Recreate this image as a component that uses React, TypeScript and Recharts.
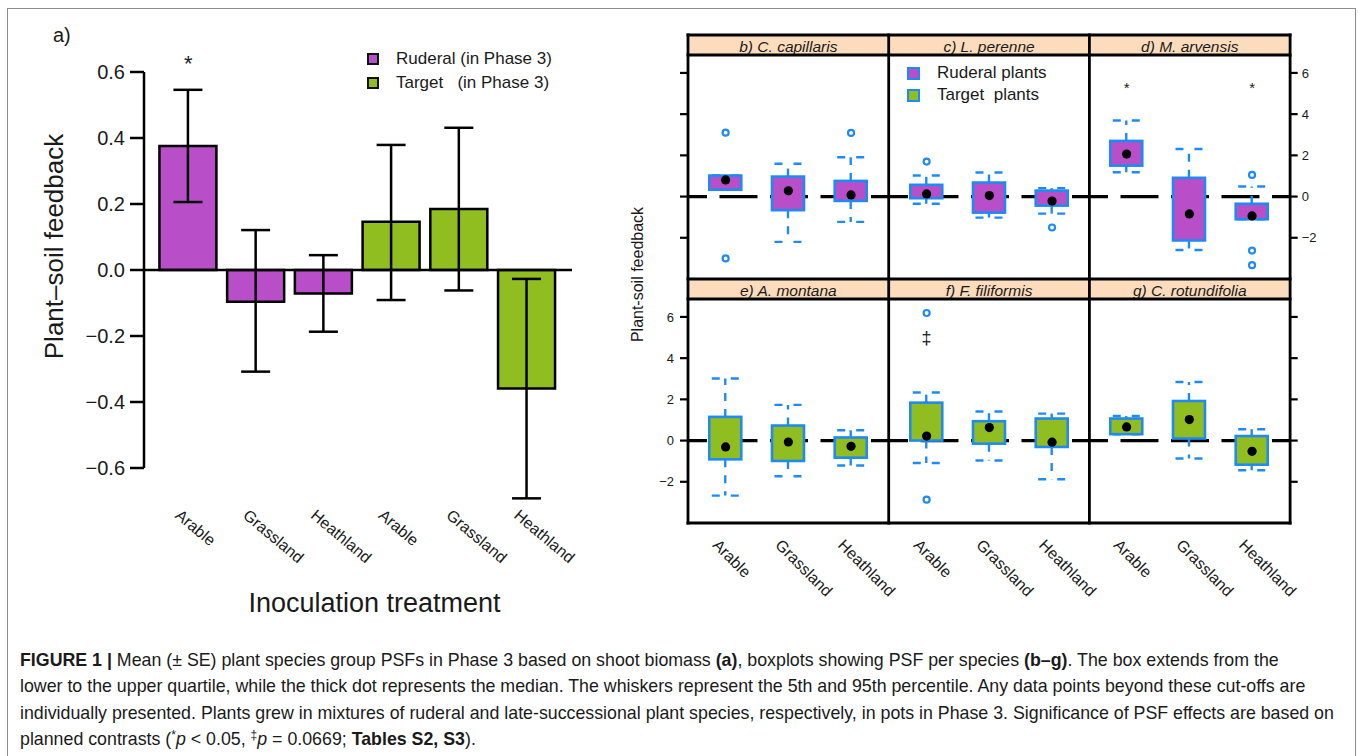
import React from "react";
import {
  ComposedChart,
  Bar,
  Cell,
  ErrorBar,
  Scatter,
  XAxis,
  YAxis,
  ReferenceLine,
  ReferenceDot,
  Legend,
} from "recharts";

const SANS = "'Liberation Sans', Arial, Helvetica, sans-serif";
const INK = "#1a1a1a";
const RUDERAL = "#b94ec9";
const TARGET = "#90bd1f";
const BLUE = "#1f8bf2";
const STRIP = "#fcdcbc";

// ---------- a) group means (± SE) ----------
const groupTreatments = ["Arable", "Grassland", "Heathland", "Arable", "Grassland", "Heathland"];
const groupKinds = ["Ruderal", "Ruderal", "Ruderal", "Target", "Target", "Target"];
const groupMeans = [0.376, -0.096, -0.071, 0.146, 0.185, -0.359];
const groupSeHigh = [0.546, 0.121, 0.045, 0.379, 0.431, -0.027];
const groupSeLow = [0.206, -0.308, -0.187, -0.091, -0.062, -0.692];
const groupSignif = ["*", "", "", "", "", ""];
const groupTicks = [-0.6, -0.4, -0.2, 0, 0.2, 0.4, 0.6];
const groupLegend = [
  { kind: "Ruderal", text: "Ruderal (in Phase 3)" },
  { kind: "Target", text: "Target   (in Phase 3)" },
];

// ---------- b-g) boxplots per species ----------
const treatments = ["Arable", "Grassland", "Heathland"];
const psfTicks = [-2, 0, 2, 4, 6];
// each row: [lower whisker, lower quartile, median, upper quartile, upper whisker]
const capillarisStats = [
  [0.33, 0.33, 0.81, 1.02, 1.02],
  [-2.2, -0.66, 0.28, 0.97, 1.59],
  [-1.23, -0.21, 0.08, 0.76, 1.91],
];
const capillarisOutliers: [string, number][] = [["Arable", 3.1], ["Arable", -3.0], ["Heathland", 3.09]];

const perenneStats = [
  [-0.35, -0.08, 0.13, 0.57, 1.02],
  [-1.02, -0.78, 0.05, 0.68, 1.17],
  [-0.83, -0.44, -0.22, 0.29, 0.41],
];
const perenneOutliers: [string, number][] = [["Arable", 1.7], ["Heathland", -1.5]];

const arvensisStats = [
  [1.18, 1.5, 2.06, 2.7, 3.69],
  [-2.59, -2.13, -0.84, 0.91, 2.31],
  [-1.1, -1.1, -0.94, -0.35, 0.49],
];
const arvensisOutliers: [string, number][] = [["Heathland", 1.05], ["Heathland", -2.62], ["Heathland", -3.33]];
const arvensisMarks: [string, number, string][] = [["Arable", 5.34, "*"], ["Heathland", 5.34, "*"]];

const montanaStats = [
  [-2.67, -0.91, -0.31, 1.15, 3.01],
  [-1.73, -0.99, -0.07, 0.73, 1.73],
  [-1.21, -0.83, -0.28, 0.15, 0.5],
];

const filiformisStats = [
  [-1.09, 0.0, 0.22, 1.84, 2.33],
  [-0.97, -0.15, 0.63, 0.94, 1.41],
  [-1.88, -0.31, -0.08, 1.07, 1.31],
];
const filiformisOutliers: [string, number][] = [["Arable", 6.19], ["Arable", -2.87]];
const filiformisMarks: [string, number, string][] = [["Arable", 5.0, "\u2021"]];

const rotundifoliaStats = [
  [0.31, 0.31, 0.66, 1.07, 1.19],
  [-0.87, 0.1, 1.02, 1.92, 2.84],
  [-1.44, -1.17, -0.52, 0.22, 0.55],
];

const speciesLegend = [
  { kind: "Ruderal", text: "Ruderal plants" },
  { kind: "Target", text: "Target  plants" },
];

const noMarks: [string, number, string][] = [];
const noOutliers: [string, number][] = [];

const panels = [
  { title: "b) C. capillaris", kind: "Ruderal", stats: capillarisStats, outliers: capillarisOutliers, marks: noMarks },
  { title: "c) L. perenne", kind: "Ruderal", stats: perenneStats, outliers: perenneOutliers, marks: noMarks },
  { title: "d) M. arvensis", kind: "Ruderal", stats: arvensisStats, outliers: arvensisOutliers, marks: arvensisMarks },
  { title: "e) A. montana", kind: "Target", stats: montanaStats, outliers: noOutliers, marks: noMarks },
  { title: "f) F. filiformis", kind: "Target", stats: filiformisStats, outliers: filiformisOutliers, marks: filiformisMarks },
  { title: "g) C. rotundifolia", kind: "Target", stats: rotundifoliaStats, outliers: noOutliers, marks: noMarks },
];

const kindColour = (k: string) => (k === "Ruderal" ? RUDERAL : TARGET);

// ---------- layout ----------
const A_W = 660;
const A_H = 630;
const A_TOP = 72;
const A_AXIS_X = 144;
const A_RIGHT = 572;
const A_YDOM: [number, number] = [-0.75, 0.6];
const A_PLOT_H = (A_YDOM[1] - A_YDOM[0]) * 330;
const A_XDOM: [number, number] = [0.346, 6.666];
const A_TICK_Y = 517;

const GRID_X = 688;
const COL_W = 200.7;
const ROW_Y = [55, 299];
const PLOT_H = 224;
const STRIP_H = 20;
const AXIS_W = 40;
const PAD = 10;
const X_AXIS_H = 110;
const PSF_DOMAIN: [number, number] = [-4, 6.87];

const fmtGroup = (v: number) => (Math.abs(v) < 1e-9 ? "0.0" : (v < 0 ? "\u2212" : "") + Math.abs(v).toFixed(1));
const fmtPsf = (v: number) => (v < 0 ? "\u2212" + Math.abs(v) : String(v));

const groupData = groupMeans.map((m, i) => ({
  x: i + 1,
  mean: m,
  err: [m - groupSeLow[i], groupSeHigh[i] - m],
  kind: groupKinds[i],
}));

function GroupTick(props: any) {
  const { x, payload } = props;
  const tx = x - 14;
  return (
    <text x={tx} y={A_TICK_Y} transform={`rotate(40, ${tx}, ${A_TICK_Y})`} fontSize={16} fontFamily={SANS} fill={INK}>
      {groupTreatments[payload.value - 1]}
    </text>
  );
}

function GroupLegend() {
  return (
    <div style={{ position: "relative", width: 220, height: 48, fontFamily: SANS, fontSize: 17, color: INK }}>
      {groupLegend.map((l, i) => (
        <React.Fragment key={l.kind}>
          <div
            style={{
              position: "absolute",
              left: 0,
              top: 3 + i * 23.5,
              width: 12,
              height: 12,
              boxSizing: "border-box",
              border: "2px solid #111",
              background: kindColour(l.kind),
            }}
          />
          <div style={{ position: "absolute", left: 29, top: i * 23.5, lineHeight: "17px", whiteSpace: "pre" }}>{l.text}</div>
        </React.Fragment>
      ))}
    </div>
  );
}

function GroupChart() {
  return (
    <ComposedChart
      width={A_W}
      height={A_H}
      data={groupData}
      margin={{ top: A_TOP, right: A_W - A_RIGHT, bottom: 0, left: 0 }}
    >
      <XAxis
        dataKey="x"
        type="number"
        domain={A_XDOM}
        ticks={[1, 2, 3, 4, 5, 6]}
        interval={0}
        height={A_H - A_TOP - A_PLOT_H}
        axisLine={false}
        tickLine={false}
        tick={(p: any) => <GroupTick {...p} />}
        label={{
          content: () => (
            <text x={374.5} y={612} textAnchor="middle" fontSize={27} fontFamily={SANS} fill={INK}>
              Inoculation treatment
            </text>
          ),
        }}
      />
      <YAxis
        domain={A_YDOM}
        ticks={groupTicks}
        width={A_AXIS_X}
        axisLine={false}
        tickLine={{ stroke: "#000", strokeWidth: 2.5 }}
        tickSize={14}
        tickMargin={5}
        tickFormatter={fmtGroup}
        tick={{ fontSize: 20, fill: INK, fontFamily: SANS }}
        label={{
          content: () => (
            <text x={63} y={246.5} transform="rotate(-90, 63, 246.5)" textAnchor="middle" fontSize={26} fontFamily={SANS} fill={INK}>
              Plant–soil feedback
            </text>
          ),
        }}
      />
      <ReferenceLine
        segment={[{ x: A_XDOM[0], y: groupTicks[0] }, { x: A_XDOM[0], y: groupTicks[groupTicks.length - 1] }]}
        stroke="#000"
        strokeWidth={2.5}
        ifOverflow="visible"
      />
      <Bar dataKey="mean" barSize={57} stroke="#000" strokeWidth={2.5} isAnimationActive={false}>
        {groupData.map((d) => (
          <Cell key={d.x} fill={kindColour(d.kind)} />
        ))}
        <ErrorBar dataKey="err" width={14.5} stroke="#000" strokeWidth={2.5} isAnimationActive={false} />
      </Bar>
      <ReferenceLine y={0} stroke="#000" strokeWidth={2.5} />
      {groupSignif.map((s, i) =>
        s ? (
          <ReferenceDot
            key={i}
            x={i + 1}
            y={groupSeHigh[i] + 0.08}
            r={0}
            fill="none"
            stroke="none"
            ifOverflow="visible"
            label={{ value: s, position: "center", fontSize: 22, fill: INK, fontFamily: SANS }}
          />
        ) : null
      )}
      <Legend
        layout="vertical"
        align="center"
        verticalAlign="middle"
        wrapperStyle={{ left: 367, top: 50, width: 220 }}
        content={() => <GroupLegend />}
      />
    </ComposedChart>
  );
}

function BoxShape(props: any) {
  const { x, y, width, height, payload, boxFill } = props;
  if (x == null || y == null || !payload) return null;
  const top = Math.min(y, y + height);
  const bottom = Math.max(y, y + height);
  const span = payload.hi - payload.lo;
  const py = (v: number) => (span === 0 ? top : top + ((payload.hi - v) / span) * (bottom - top));
  const cx = x + width / 2;
  const yq3 = py(payload.q3);
  const yq1 = py(payload.q1);
  return (
    <g>
      <line x1={cx} x2={cx} y1={yq3} y2={top} stroke={BLUE} strokeWidth={2.4} strokeDasharray="8 8" />
      <line x1={cx} x2={cx} y1={yq1} y2={bottom} stroke={BLUE} strokeWidth={2.4} strokeDasharray="8 8" />
      <line x1={cx - 13.5} x2={cx + 13.5} y1={top} y2={top} stroke={BLUE} strokeWidth={2.4} strokeDasharray="8 11" />
      <line x1={cx - 13.5} x2={cx + 13.5} y1={bottom} y2={bottom} stroke={BLUE} strokeWidth={2.4} strokeDasharray="8 11" />
      <rect x={x} y={yq3} width={width} height={Math.max(yq1 - yq3, 0)} fill={boxFill} stroke={BLUE} strokeWidth={2.6} />
    </g>
  );
}

function SpeciesLegend() {
  return (
    <div style={{ position: "relative", width: 160, height: 44, fontFamily: SANS, fontSize: 17, color: INK }}>
      {speciesLegend.map((l, i) => (
        <React.Fragment key={l.kind}>
          <div
            style={{
              position: "absolute",
              left: 0,
              top: 2.5 + i * 22,
              width: 13,
              height: 13,
              boxSizing: "border-box",
              border: `2.5px solid ${BLUE}`,
              background: kindColour(l.kind),
            }}
          />
          <div style={{ position: "absolute", left: 30, top: i * 22, lineHeight: "17px", whiteSpace: "pre" }}>{l.text}</div>
        </React.Fragment>
      ))}
    </div>
  );
}

const blankTick = () => <g />;

function SpeciesPanel({ panel, col, row }: { panel: (typeof panels)[number]; col: number; row: number }) {
  const bottomRow = row === 1;
  const rows = treatments.map((t, i) => {
    const [lo, q1, med, q3, hi] = panel.stats[i];
    return { x: i + 1, lo, q1, med, q3, hi };
  });
  const outl = panel.outliers.map(([t, v]) => ({ x: treatments.indexOf(t) + 1, v }));
  const marks = panel.marks.map(([t, v, s]) => ({ x: treatments.indexOf(t) + 1, v, s }));
  const fill = kindColour(panel.kind);
  const plotBottom = PAD + PLOT_H;
  const axisTick = { fontSize: 13, fill: INK, fontFamily: SANS };

  return (
    <div style={{ position: "absolute", left: GRID_X + col * COL_W - AXIS_W, top: ROW_Y[row] - PAD }}>
      <ComposedChart
        width={COL_W + 2 * AXIS_W}
        height={PAD + PLOT_H + (bottomRow ? X_AXIS_H : PAD)}
        data={rows}
        margin={{ top: PAD, right: 0, bottom: bottomRow ? 0 : PAD, left: 0 }}
      >
        <XAxis
          xAxisId="x"
          dataKey="x"
          type="number"
          domain={[0.4, 3.6]}
          ticks={[1, 2, 3]}
          interval={0}
          hide={!bottomRow}
          height={X_AXIS_H}
          axisLine={false}
          tickLine={false}
          tick={(p: any) => {
            const tx = p.x - 14;
            const ty = plotBottom + 23;
            return (
              <text x={tx} y={ty} transform={`rotate(45, ${tx}, ${ty})`} fontSize={16} fontFamily={SANS} fill={INK}>
                {treatments[p.payload.value - 1]}
              </text>
            );
          }}
        />
        <YAxis
          yAxisId="l"
          orientation="left"
          width={AXIS_W}
          domain={PSF_DOMAIN}
          ticks={psfTicks}
          interval={0}
          axisLine={false}
          tickLine={col === 0 ? { stroke: "#000", strokeWidth: 2.2 } : false}
          tickSize={8}
          tickMargin={6}
          tickFormatter={fmtPsf}
          tick={col === 0 && bottomRow ? axisTick : blankTick}
        />
        <YAxis
          yAxisId="r"
          orientation="right"
          width={AXIS_W}
          domain={PSF_DOMAIN}
          ticks={psfTicks}
          interval={0}
          axisLine={false}
          tickLine={col === 2 ? { stroke: "#000", strokeWidth: 2.2 } : false}
          tickSize={8}
          tickMargin={4}
          tickFormatter={fmtPsf}
          tick={col === 2 && !bottomRow ? axisTick : blankTick}
        />
        <ReferenceLine
          xAxisId="x"
          yAxisId="l"
          y={0}
          stroke="#000"
          strokeWidth={3.3}
          strokeDasharray="38 12.5"
          strokeDashoffset={19}
          zIndex={250}
        />
        <Bar
          xAxisId="x"
          yAxisId="l"
          dataKey={(d: any) => [d.lo, d.hi]}
          barSize={32}
          isAnimationActive={false}
          shape={(p: any) => <BoxShape {...p} boxFill={fill} />}
        />
        <Scatter
          xAxisId="x"
          yAxisId="l"
          dataKey="med"
          isAnimationActive={false}
          shape={(p: any) => <circle cx={p.cx} cy={p.cy} r={4.6} fill="#000" />}
        />
        {/* keeps the right-hand axis bound to the same values */}
        <Scatter xAxisId="x" yAxisId="r" dataKey="med" isAnimationActive={false} legendType="none" shape={blankTick} />
        {outl.length > 0 && (
          <Scatter
            xAxisId="x"
            yAxisId="l"
            data={outl}
            dataKey="v"
            isAnimationActive={false}
            shape={(p: any) => <circle cx={p.cx} cy={p.cy} r={3} fill="#fff" stroke={BLUE} strokeWidth={2.2} />}
          />
        )}
        {marks.length > 0 && (
          <Scatter
            xAxisId="x"
            yAxisId="l"
            data={marks}
            dataKey="v"
            isAnimationActive={false}
            shape={(p: any) => (
              <text x={p.cx} y={p.cy + 6} textAnchor="middle" fontSize={p.payload.s === "*" ? 15 : 18} fontFamily={SANS} fill={INK}>
                {p.payload.s}
              </text>
            )}
          />
        )}
        {col === 1 && row === 0 && (
          <Legend
            layout="vertical"
            align="center"
            verticalAlign="middle"
            wrapperStyle={{ left: 58.3, top: 19, width: 160 }}
            content={() => <SpeciesLegend />}
          />
        )}
      </ComposedChart>
    </div>
  );
}

function Frame() {
  const right = GRID_X + 3 * COL_W;
  const top = ROW_Y[0] - STRIP_H;
  const bottom = ROW_Y[1] + PLOT_H;
  const vx = [GRID_X, GRID_X + COL_W, GRID_X + 2 * COL_W, right];
  const hy = [top, ROW_Y[0], ROW_Y[0] + PLOT_H, ROW_Y[1], bottom];
  return (
    <svg width={1358} height={640} style={{ position: "absolute", left: 0, top: 0, pointerEvents: "none" }}>
      {panels.map((p, i) => {
        const col = i % 3;
        const row = Math.floor(i / 3);
        const x = GRID_X + col * COL_W;
        const y = ROW_Y[row] - STRIP_H;
        return (
          <g key={p.title}>
            <rect x={x} y={y} width={COL_W} height={STRIP_H} fill={STRIP} />
            <text x={x + COL_W / 2} y={y + 16.5} textAnchor="middle" fontSize={15.5} fontStyle="italic" fontFamily={SANS} fill={INK}>
              {p.title}
            </text>
          </g>
        );
      })}
      {vx.map((x) => (
        <line key={"v" + x} x1={x} x2={x} y1={top - 1.4} y2={bottom + 1.4} stroke="#000" strokeWidth={2.8} />
      ))}
      {hy.map((y) => (
        <line key={"h" + y} x1={GRID_X - 1.4} x2={right + 1.4} y1={y} y2={y} stroke="#000" strokeWidth={2.8} />
      ))}
      <text x={643} y={274.5} transform="rotate(-90, 643, 274.5)" textAnchor="middle" fontSize={16} fontFamily={SANS} fill={INK}>
        Plant-soil feedback
      </text>
      <text x={53} y={41.5} fontSize={20} fontFamily={SANS} fill={INK}>
        a)
      </text>
    </svg>
  );
}

function Caption() {
  const sup: React.CSSProperties = { fontSize: 12, position: "relative", top: -6 };
  const lines: React.ReactNode[] = [
    <>
      <b>FIGURE 1 |</b> Mean (± SE) plant species group PSFs in Phase 3 based on shoot biomass <b>(a)</b>, boxplots showing PSF per species{" "}
      <b>(b–g)</b>. The box extends from the
    </>,
    <>lower to the upper quartile, while the thick dot represents the median. The whiskers represent the 5th and 95th percentile. Any data points beyond these cut-offs are</>,
    <>individually presented. Plants grew in mixtures of ruderal and late-successional plant species, respectively, in pots in Phase 3. Significance of PSF effects are based on</>,
    <>
      planned contrasts (<span style={sup}>*</span>
      <i>p</i> &lt; 0.05, <span style={sup}>‡</span>
      <i>p</i> = 0.0669; <b>Tables S2, S3</b>).
    </>,
  ];
  return (
    <div style={{ position: "absolute", left: 20, top: 647, fontFamily: SANS, fontSize: 17.8, color: INK }}>
      {lines.map((l, i) => (
        <div key={i} style={{ lineHeight: "26.3px", height: 26.3, whiteSpace: "nowrap" }}>
          {l}
        </div>
      ))}
    </div>
  );
}

export default function App() {
  return (
    <div style={{ position: "absolute", left: 0, top: 0, width: 1358, height: 756, overflow: "hidden", background: "#fff" }}>
      <div
        style={{
          position: "absolute",
          left: 7,
          top: 8,
          width: 1349,
          height: 800,
          boxSizing: "border-box",
          borderLeft: "1.5px solid #8c8c8c",
          borderTop: "1.5px solid #8c8c8c",
          borderRight: "1.5px solid #8c8c8c",
        }}
      />
      <div style={{ position: "absolute", left: 0, top: 0 }}>
        <GroupChart />
      </div>
      {panels.map((p, i) => (
        <SpeciesPanel key={p.title} panel={p} col={i % 3} row={Math.floor(i / 3)} />
      ))}
      <Frame />
      <Caption />
    </div>
  );
}
